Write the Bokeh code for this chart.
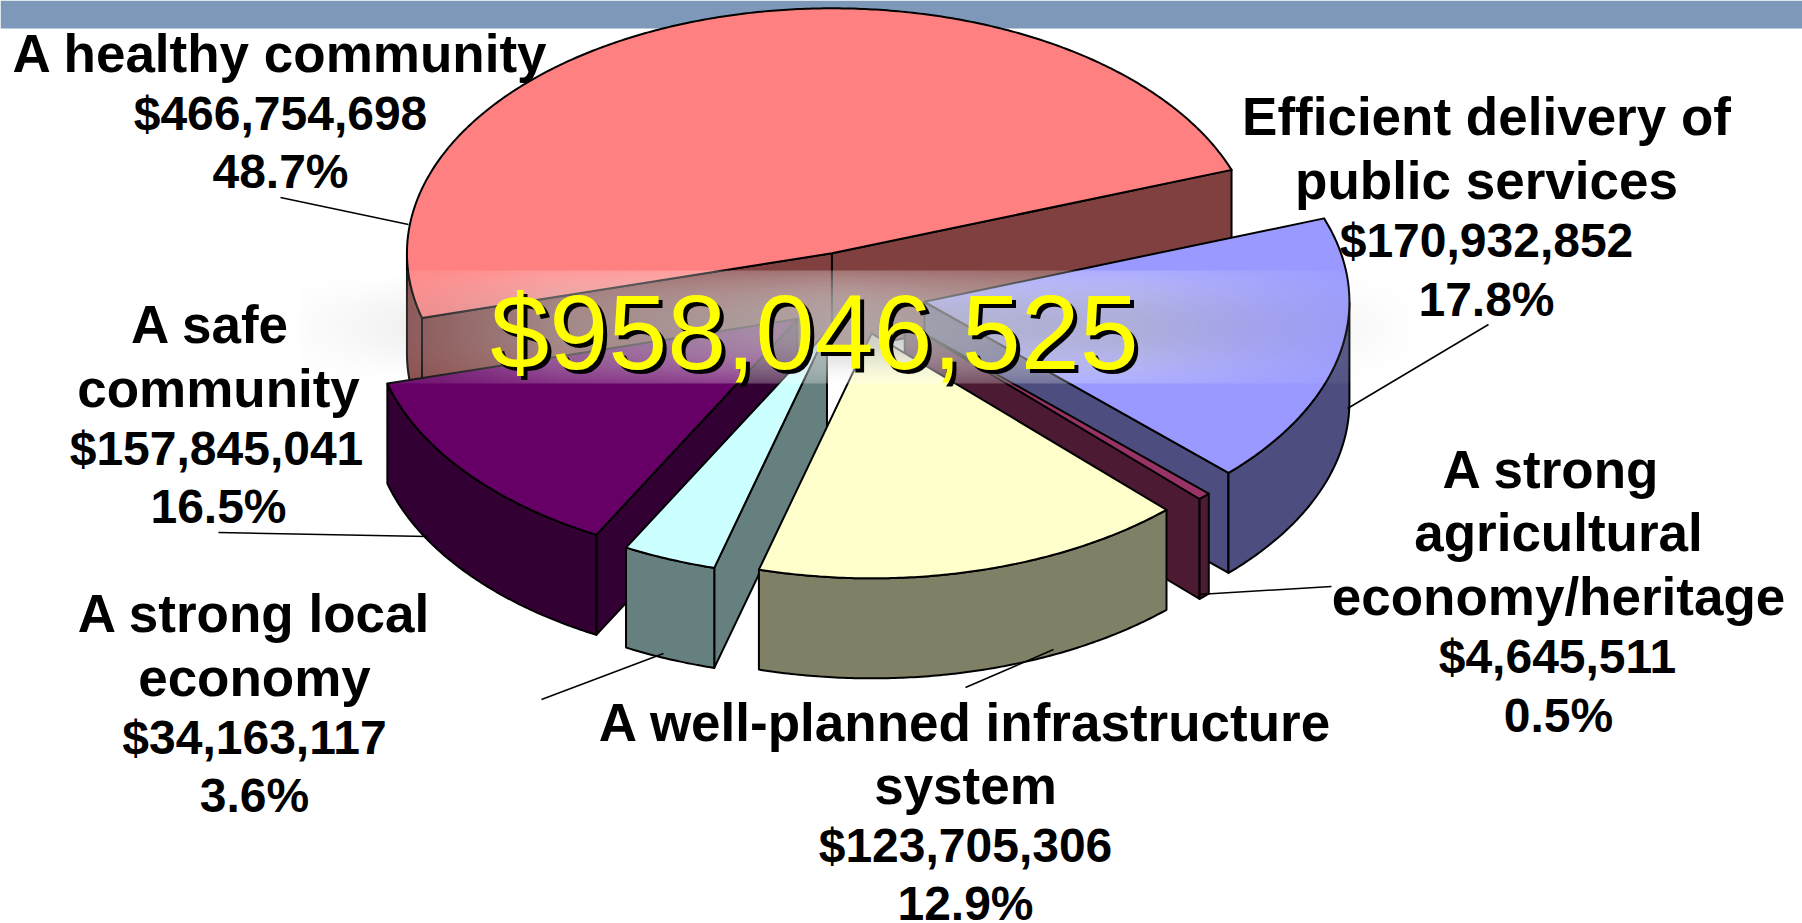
import numpy as np
from bokeh.plotting import figure
from bokeh.models import Range1d
from bokeh.core.properties import value
from bokeh.embed import file_html
from bokeh.resources import INLINE

# Data, clockwise as the slices are drawn from the first slice
slice_names = ["healthy", "services", "agri", "yellow", "cyan", "purple"]
amounts = [466754698, 170932852, 4645511, 157845041, 34163117, 123705306]
top_colors = ["#FF8080", "#9999FF", "#993366", "#FFFFCC", "#CCFFFF", "#660066"]
wall_colors = ["#804040", "#4D4D80", "#4D1A33", "#808066", "#668080", "#330033"]
paint_order = [0, 1, 2, 5, 4, 3]

total_label = "$958,046,525"

label_lines = [
    "A healthy community", "$466,754,698", "48.7%",
    "Efficient delivery of", "public services", "$170,932,852", "17.8%",
    "A safe", "community", "$157,845,041", "16.5%",
    "A strong", "agricultural", "economy/heritage", "$4,645,511", "0.5%",
    "A strong local", "economy", "$34,163,117", "3.6%",
    "A well-planned infrastructure", "system", "$123,705,306", "12.9%",
]
label_x = [280, 280, 280,
           1486, 1486, 1486, 1486,
           210, 218, 216, 218,
           1551, 1558, 1558, 1557, 1558,
           254, 254, 254, 254,
           965, 965, 965, 965]
label_y = [53, 113, 171,
           116, 180, 240, 299,
           324, 388, 448, 506,
           469, 532, 596, 656, 715,
           613, 677, 737, 795,
           722, 785, 845, 903]
label_size = [53, 48, 48,
              53, 53, 48, 48,
              53, 53, 48, 48,
              53, 53, 53, 48, 48,
              53, 53, 48, 48,
              53, 53, 48, 48]

leader_x0 = [280, 1488, 1331, 1053, 663, 218]
leader_y0 = [197, 324, 586, 649, 653, 532]
leader_x1 = [408, 1347, 1198, 965, 541, 427]
leader_y1 = [224, 408, 594, 687, 699, 536]

# Pie construction
START_ANGLE = 195.3
CX, CY = 853.3, 292.5
RX, RY = 425.0, 245.0
EXPLODE = 0.17
DEPTH = 100.0

p = figure(width=1802, height=923, output_backend="svg", toolbar_location=None,
           x_range=Range1d(0, 1802), y_range=Range1d(923, 0),
           min_border=0, outline_line_color=None, background_fill_color="white",
           border_fill_color="white")
p.axis.visible = False
p.grid.visible = False

p.quad(left=[0], right=[1802], top=[0], bottom=[28], fill_color="#7D98B8", line_color=None)

fractions = np.array(amounts, dtype=float) / sum(amounts)
spans = fractions * 360.0
ends = START_ANGLE - np.cumsum(spans)
starts = np.concatenate([[START_ANGLE], ends[:-1]])


def rim(ax, ay, deg):
    t = np.radians(deg)
    return ax + RX * np.cos(t), ay - RY * np.sin(t)


def facing(normal_deg):
    return np.sin(np.radians(normal_deg)) < 0


patch_x, patch_y, patch_fill = [], [], []
for i in paint_order:
    a, b = starts[i], ends[i]
    mid = np.radians((a + b) / 2)
    ax = CX + EXPLODE * RX * np.cos(mid)
    ay = CY - EXPLODE * RY * np.sin(mid)
    # radial cut faces
    for edge, normal in ((a, a + 90), (b, b - 90)):
        if facing(normal):
            ex, ey = rim(ax, ay, edge)
            patch_x.append([ax, ex, ex, ax])
            patch_y.append([ay, ey, ey + DEPTH, ay + DEPTH])
            patch_fill.append(wall_colors[i])
    # outer wall: the part of the arc on the near half
    thetas = np.linspace(a, b, max(int(abs(a - b)) * 2, 2) + 1)
    near = np.sin(np.radians(thetas)) <= 0
    if near.any():
        tx, ty = rim(ax, ay, thetas[near])
        patch_x.append(list(tx) + list(tx[::-1]))
        patch_y.append(list(ty) + list((ty + DEPTH)[::-1]))
        patch_fill.append(wall_colors[i])
    # top
    tx, ty = rim(ax, ay, thetas)
    patch_x.append([ax] + list(tx))
    patch_y.append([ay] + list(ty))
    patch_fill.append(top_colors[i])

for xs, ys, fc in zip(patch_x, patch_y, patch_fill):
    p.patch(xs, ys, fill_color=fc, line_color="black", line_width=2, line_join="round")

# soft band behind the total
bx0, bx1, by0, by1 = 300, 1460, 270, 383
h, w = by1 - by0, bx1 - bx0
yy = (np.arange(h) + 0.5) / h
xx = (np.arange(w) + 0.5) / w
s = np.sin(np.pi * yy)
fx = np.clip(1 - np.abs(xx - 0.47) / 0.5, 0, 1)
ax_ = np.clip(fx * 2.0, 0, 1) * (0.35 + 0.45 * fx)
ay_ = 0.35 + 0.65 * s
grey = 255 - 65 * s
band = np.zeros((h, w), dtype=np.uint32)
view = band.view(dtype=np.uint8).reshape((h, w, 4))
view[..., 0] = grey[:, None].astype(np.uint8)
view[..., 1] = grey[:, None].astype(np.uint8)
view[..., 2] = grey[:, None].astype(np.uint8)
view[..., 3] = (255 * np.outer(ay_, ax_)).astype(np.uint8)
p.image_rgba(image=[band], x=bx0, y=by0, dw=w, dh=h)

p.segment(leader_x0, leader_y0, leader_x1, leader_y1, line_color="black", line_width=1.5)

p.text(x=[818], y=[335], text=[total_label], text_font=value("Liberation Sans"), text_font_size="106px",
       text_color="black", text_align="center", text_baseline="middle")
p.text(x=[814], y=[331], text=[total_label], text_font=value("Liberation Sans"), text_font_size="106px",
       text_color="#FFFF00", text_align="center", text_baseline="middle")

p.text(x=label_x, y=label_y, text=label_lines, text_font=value("Liberation Sans"),
       text_font_style="bold", text_font_size=[f"{v}px" for v in label_size],
       text_color="black", text_align="center", text_baseline="middle")

open("out.html", "w").write(file_html(p, INLINE))
